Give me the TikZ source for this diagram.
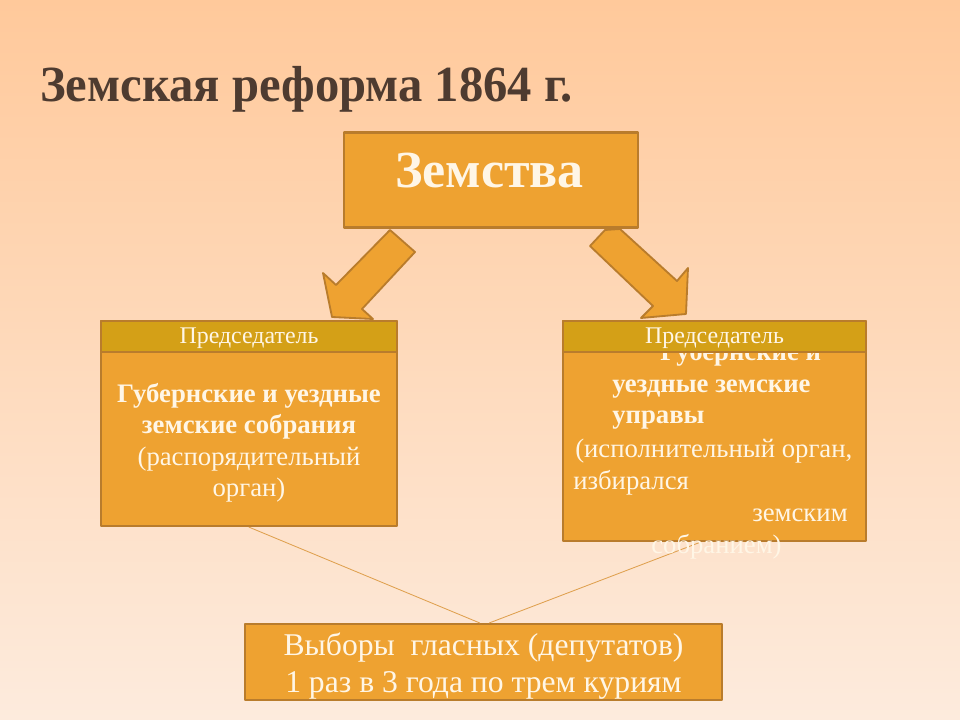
\documentclass[tikz,border=0pt]{standalone}
\usepackage{fontspec}
\setmainfont{Liberation Serif}
\newfontfamily\titlefont[FakeStretch=0.96]{Liberation Serif}
\usetikzlibrary{positioning,calc}
\definecolor{bgtop}{HTML}{FFC99B}
\definecolor{bgbot}{HTML}{FDEBDD}
\definecolor{boxfill}{HTML}{EEA231}
\definecolor{boxline}{HTML}{B97C2C}
\definecolor{headfill}{HTML}{D4A017}
\definecolor{txt}{HTML}{FFF6E6}
\definecolor{titletxt}{HTML}{4E3B30}
\definecolor{thinline}{HTML}{DFA04E}
\tikzset{
  box/.style={draw=boxline,fill=boxfill,line width=1.6pt,inner sep=0pt},
  headbar/.style={draw=boxline,fill=headfill,line width=1.6pt,inner sep=0pt,anchor=north},
  bodytext/.style={text=txt,inner sep=0pt,font=\fontsize{19}{22.5}\selectfont},
  blockarrow/.style={draw=boxline,fill=boxfill,line width=1.3pt,line join=round}
}
\begin{document}
\begin{tikzpicture}[line cap=round,line join=round,x=0.025cm,y=-0.025cm]
\shade[top color=bgtop,bottom color=bgbot] (0,0) rectangle (960,720);
\useasboundingbox (0,0) rectangle (960,720);
%
\node[anchor=base west,text=titletxt,inner sep=0pt] (title) at (40,102)
  {\titlefont\fontsize{36}{40}\selectfont\bfseries Земская реформа 1864 г.};
%
\node[box,minimum width=7.35cm,minimum height=2.375cm] (zemstva) at (491,180) {};
\node[text=txt,anchor=base,inner sep=0pt] at (489.5,188)
  {\fontsize{37}{40}\selectfont\bfseries Земства};
%
% block arrows
\draw[blockarrow] (390,230)--(415,252)--(362,309)--(373,319)--(332,317)--(323,273)--(336,285)--cycle;
\draw[blockarrow] (605,230)--(620,229)--(677,281)--(688,268)--(686,314)--(641,318)--(653,306)--(590,246)--cycle;
%
\node[box,minimum width=7.4cm,minimum height=5.125cm] (assembly) at (249,423.5) {};
\node[box,minimum width=7.575cm,minimum height=5.5cm] (council) at (714.5,431) {};
\node[box,minimum width=11.925cm,minimum height=1.9cm] (votes) at (483.5,662) {};
%
% thin lines to the elections
\coordinate (cb) at ($(council.south)+(-14,0)$);
\draw[thinline,line width=0.6pt] (assembly.south) -- ($(votes.north)+(-4,0)$);
\draw[thinline,line width=0.6pt] ($(votes.north)+(6,0)$) -- (cb);
%
\node[bodytext,align=center,anchor=base] at (249,497)
  {\bfseries Губернские и уездные\\ \bfseries земские собрания\\(распорядительный\\орган)};
%
\node[bodytext,anchor=base west] at (660,361) {\bfseries Губернские и};
\node[bodytext,anchor=base west] at (612,393) {\bfseries уездные земские};
\node[bodytext,anchor=base west] at (612,424) {\bfseries управы};
\node[bodytext,anchor=base west] at (575,458) {(исполнительный орган,};
\node[bodytext,anchor=base west] at (573,490) {избирался};
\node[bodytext,anchor=base west] at (752,522) {земским};
\node[bodytext,anchor=base west] at (651,553) {собранием)};
%
\node[headbar,minimum width=7.4cm,minimum height=0.775cm] (lhead) at (assembly.north) {};
\node[headbar,minimum width=7.575cm,minimum height=0.775cm] (rhead) at (council.north) {};
\node[text=txt,font=\fontsize{17}{18}\selectfont,inner sep=0pt,anchor=base] at ($(lhead.center)+(0,7)$) {Председатель};
\node[text=txt,font=\fontsize{17}{18}\selectfont,inner sep=0pt,anchor=base] at ($(rhead.center)+(0,7)$) {Председатель};
%
\node[text=txt,align=center,anchor=base,inner sep=0pt,font=\fontsize{22.5}{26.3}\selectfont] at (483.5,692)
  {Выборы\ \ гласных (депутатов)\\1 раз в 3 года по трем куриям};
\end{tikzpicture}
\end{document}
